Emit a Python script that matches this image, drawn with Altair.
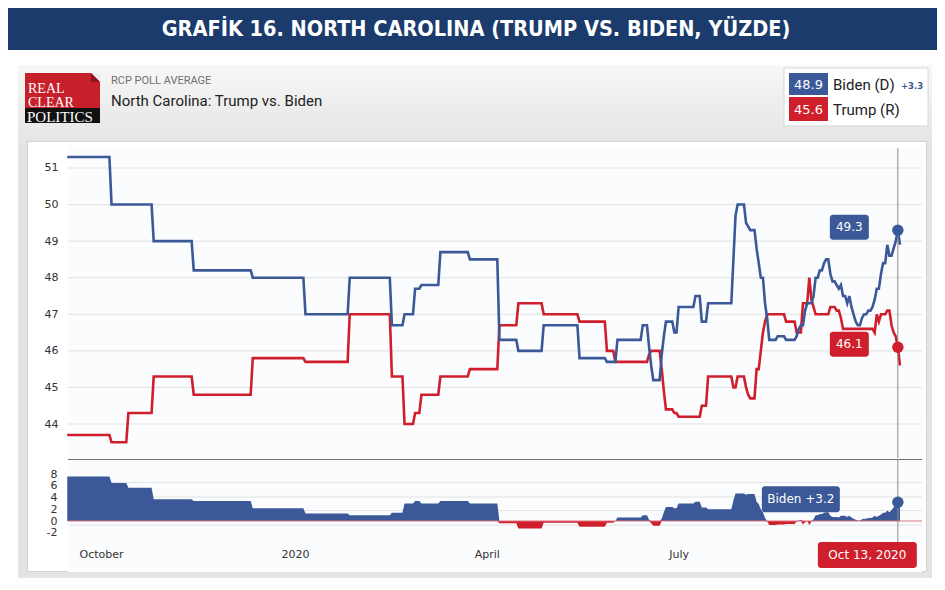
import altair as alt
import pandas as pd

# ---------------- data ----------------
BIDEN_DATES = [
    "2019-09-15", "2019-10-06", "2019-10-26", "2019-11-14", "2019-12-12",
    "2020-01-06", "2020-01-27", "2020-02-16", "2020-02-22", "2020-02-27",
    "2020-03-01", "2020-03-10", "2020-03-24", "2020-04-07", "2020-04-16",
    "2020-04-28", "2020-05-15", "2020-05-28", "2020-06-02", "2020-06-14",
    "2020-06-17", "2020-06-18", "2020-06-19", "2020-06-23", "2020-06-24",
    "2020-06-25", "2020-06-29", "2020-07-01", "2020-07-09", "2020-07-12",
    "2020-07-15", "2020-07-27", "2020-07-28", "2020-07-29", "2020-08-02",
    "2020-08-03", "2020-08-04", "2020-08-07", "2020-08-08", "2020-08-09",
    "2020-08-11", "2020-08-12", "2020-08-13", "2020-08-17", "2020-08-21",
    "2020-08-26", "2020-08-27", "2020-08-28", "2020-08-30", "2020-08-31",
    "2020-09-03", "2020-09-04", "2020-09-06", "2020-09-08", "2020-09-09",
    "2020-09-11", "2020-09-12", "2020-09-14", "2020-09-15", "2020-09-16",
    "2020-09-17", "2020-09-19", "2020-09-20", "2020-09-21", "2020-09-22",
    "2020-09-23", "2020-09-24", "2020-09-26", "2020-09-27", "2020-09-29",
    "2020-10-01", "2020-10-02", "2020-10-03", "2020-10-05", "2020-10-06",
    "2020-10-08", "2020-10-09", "2020-10-11", "2020-10-12", "2020-10-13",
    "2020-10-14",
]
BIDEN_VALUES = [
    51.3, 50.0, 49.0, 48.2, 48.0,
    47.0, 48.0, 46.7, 47.0, 47.7,
    47.8, 48.7, 48.5, 46.3, 46.0,
    46.7, 45.8, 45.7, 46.3, 46.7,
    46.1, 45.6, 45.2, 45.9, 46.4,
    46.8, 46.5, 47.2, 47.5, 46.8,
    47.3, 48.5, 49.7, 50.0, 49.5,
    49.4, 49.3, 48.8, 48.4, 48.0,
    47.3, 46.9, 46.3, 46.4, 46.3,
    46.4, 46.6, 46.7, 47.1, 47.3,
    47.5, 48.0, 48.2, 48.4, 48.5,
    48.1, 47.9, 47.8, 47.7, 47.8,
    47.5, 47.3, 47.5, 47.2, 47.0,
    46.8, 46.7, 46.9, 47.0, 47.1,
    47.2, 47.4, 47.7, 48.1, 48.4,
    48.9, 48.6, 48.8, 49.0, 49.3,
    48.9,
]
TRUMP_DATES = [
    "2019-09-15", "2019-10-06", "2019-10-14", "2019-10-26", "2019-11-14",
    "2019-12-12", "2020-01-06", "2020-01-27", "2020-02-16", "2020-02-22",
    "2020-02-27", "2020-03-01", "2020-03-10", "2020-03-24", "2020-04-07",
    "2020-04-16", "2020-04-28", "2020-05-15", "2020-05-28", "2020-06-01",
    "2020-06-17", "2020-06-18", "2020-06-23", "2020-06-24", "2020-06-25",
    "2020-06-29", "2020-07-01", "2020-07-12", "2020-07-15", "2020-07-27",
    "2020-07-29", "2020-08-02", "2020-08-03", "2020-08-04", "2020-08-07",
    "2020-08-09", "2020-08-10", "2020-08-11", "2020-08-12", "2020-08-21",
    "2020-08-26", "2020-08-29", "2020-09-01", "2020-09-02", "2020-09-03",
    "2020-09-04", "2020-09-11", "2020-09-14", "2020-09-16", "2020-09-17",
    "2020-10-02", "2020-10-03", "2020-10-04", "2020-10-05", "2020-10-08",
    "2020-10-10", "2020-10-11", "2020-10-12", "2020-10-13", "2020-10-14",
]
TRUMP_VALUES = [
    43.7, 43.5, 44.3, 45.3, 44.8,
    45.8, 45.7, 47.0, 45.3, 44.0,
    44.3, 44.8, 45.3, 45.5, 46.7,
    47.3, 47.0, 46.8, 46.0, 45.7,
    45.9, 46.0, 45.5, 44.9, 44.4,
    44.3, 44.2, 44.5, 45.3, 45.0,
    45.3, 45.0, 44.8, 44.7, 45.5,
    46.0, 46.5, 46.8, 47.0, 46.8,
    46.5, 47.3, 48.0, 47.4, 47.2,
    47.0, 47.2, 47.1, 46.9, 46.6,
    46.5, 47.0, 46.8, 47.0, 47.1,
    46.7, 46.5, 46.4, 46.1, 45.6,
]

Y_TICKS = [44, 45, 46, 47, 48, 49, 50, 51]
SPREAD_TICKS = [8, 6, 4, 2, 0, -2]
SPREAD_GRID = [6.6, 4.1, 1.8, -0.7]
X_TICKS = ["2019-10-01", "2020-01-01", "2020-04-01", "2020-07-01"]
X_RANGE = ["2019-09-15 08:24", "2020-10-24 11:00"]
HOVER_DATE = "2020-10-13"

TITLE = "GRAFİK 16. NORTH CAROLINA (TRUMP VS. BIDEN, YÜZDE)"
SOURCE_LABEL = "RCP POLL AVERAGE"
SUBTITLE = "North Carolina: Trump vs. Biden"
CANDIDATES = ["Biden (D)", "Trump (R)"]
LOGO_WORDS = ["REAL", "CLEAR", "POLITICS"]

# ---------------- styles ----------------
BLUE = "#3b5998"
RED = "#cf1f2c"
NAVY = "#1a3b6c"
FRAME = "#e4e4e4"
BORDER = "#d3d3d3"
PLOT_BG = "#fbfcfe"
NUM_FONT = "DejaVu Sans"
TXT_FONT = "Roboto"

W = 854
H_HEAD = 139
H_MAIN = 312
H_LOW = 86


def ms(s):
    return int(pd.Timestamp(s, tz="UTC").value // 10**6)


def daily(dates, values):
    s = pd.Series(values, index=pd.to_datetime(dates))
    idx = pd.date_range(s.index.min(), s.index.max(), freq="D")
    return s.reindex(idx).ffill()


b = daily(BIDEN_DATES, BIDEN_VALUES)
t = daily(TRUMP_DATES, TRUMP_VALUES)
df = pd.DataFrame({"date": b.index.strftime("%Y-%m-%d"), "Biden": b.values, "Trump": t.values})
df["spread"] = (df["Biden"] - df["Trump"]).round(1)
df["pos"] = df["spread"].clip(lower=0)
df["neg"] = df["spread"].clip(upper=0)
long = df.melt(id_vars="date", value_vars=["Trump", "Biden"], var_name="cand", value_name="value")

hov = df[df["date"] == HOVER_DATE].copy()
hov["datelabel"] = pd.Timestamp(HOVER_DATE).strftime("%b %-d, %Y")
hov["spreadlabel"] = hov["spread"].map(lambda v: ("Biden +" if v >= 0 else "Trump +") + f"{abs(v):.1f}")
last = df.iloc[-1]
lead = round(last["Biden"] - last["Trump"], 1)

ONE = alt.Data(values=[{"k": 0}])

xscale = alt.Scale(type="utc", domain=[ms(X_RANGE[0]), ms(X_RANGE[1])])
yscale_main = alt.Scale(domain=[43.043, 51.574], nice=False, zero=False)
yscale_low = alt.Scale(domain=[-4.1, 10.6], nice=False, zero=False)

yaxis_main = alt.Axis(values=Y_TICKS, grid=False, domain=False, ticks=False, labelPadding=10,
                      labelFont=NUM_FONT, labelFontSize=11, labelColor="#333333", title=None,
                      zindex=1)
yaxis_low = alt.Axis(values=SPREAD_TICKS, grid=False, domain=False, ticks=False, labelPadding=11,
                     labelFont=NUM_FONT, labelFontSize=11, labelColor="#333333", title=None,
                     labelOverlap=False, zindex=1, labelExpr="'' + datum.value")
xaxis_low = alt.Axis(values=[ms(d) for d in X_TICKS], grid=False, domain=False, ticks=False,
                     labelPadding=3, labelFont=NUM_FONT, labelFontSize=11, labelColor="#333333",
                     title=None, labelFlush=False, zindex=1,
                     labelExpr="utcmonth(datum.value) == 0 ? utcFormat(datum.value, '%Y') : utcFormat(datum.value, '%B')")


def XM():
    return alt.X("date:T", scale=xscale, axis=None)


def XL():
    return alt.X("date:T", scale=xscale, axis=xaxis_low)


def YM(f):
    return alt.Y(f + ":Q", scale=yscale_main, axis=yaxis_main)


def YL(f):
    return alt.Y(f + ":Q", scale=yscale_low, axis=yaxis_low)


def rect(x1, x2, y1, y2, **kw):
    return alt.Chart(ONE).mark_rect(**kw).encode(
        x=alt.value(x1), x2=alt.value(x2), y=alt.value(y1), y2=alt.value(y2))


def label(x, y, text, **kw):
    return alt.Chart(ONE).mark_text(text=text, **kw).encode(x=alt.value(x), y=alt.value(y))


# ---------------- header ----------------
grad = alt.Gradient(gradient="linear",
                    stops=[alt.GradientStop(color="#f7f7f7", offset=0),
                           alt.GradientStop(color=FRAME, offset=1)],
                    x1=0, x2=0, y1=0, y2=1)
head_layers = [
    rect(-60, 869, 0, 42, color=NAVY),
    label(408, 21.5, TITLE, font="DejaVu Sans Condensed, Liberation Sans Narrow, sans-serif",
          fontSize=21.5, fontWeight="bold", color="white", align="center", baseline="middle"),
    rect(-50, 864, 57, 139, color=grad),
    rect(-41, 859, 133, 139, color="white"),
    rect(-41, 859, 133, 134, color=BORDER),
    rect(-41, -40, 133, 139, color=BORDER),
    rect(858, 859, 133, 139, color=BORDER),
    # logo
    rect(-43, 32, 65, 100, color="#c8202b"),
    rect(-43, 32, 100, 115, color="#111111"),
    alt.Chart(ONE).mark_point(shape="M-1,-1 L1,-1 L1,1 Z", filled=True, size=81, opacity=1,
                              color="#ececec", strokeWidth=0).encode(x=alt.value(27.5), y=alt.value(69.5)),
    alt.Chart(ONE).mark_point(shape="M-1,-1 L1,1 L-1,1 Z", filled=True, size=81, opacity=1,
                              color="#8f1820", strokeWidth=0).encode(x=alt.value(27.5), y=alt.value(69.5)),
    label(-40, 84.5, LOGO_WORDS[0], font="Liberation Serif", fontSize=14, color="white",
          align="left", baseline="alphabetic"),
    label(-40, 98.5, LOGO_WORDS[1], font="Liberation Serif", fontSize=14, color="white",
          align="left", baseline="alphabetic"),
    label(-41, 113.5, LOGO_WORDS[2], font="Liberation Serif", fontSize=15, color="white",
          align="left", baseline="alphabetic"),
    label(43, 72.5, SOURCE_LABEL, font=TXT_FONT, fontSize=11, color="#707070",
          align="left", baseline="middle"),
    label(43, 93, SUBTITLE, font=TXT_FONT, fontSize=15, color="#222222",
          align="left", baseline="middle"),
    # legend
    rect(716, 860, 60, 118, color="white", stroke="#d6d6d6", strokeWidth=1),
    rect(721, 760, 65, 87, color=BLUE),
    rect(721, 760, 89, 113, color=RED),
    label(740.5, 76.5, f"{last['Biden']:.1f}", font=NUM_FONT, fontSize=13, color="white",
          align="center", baseline="middle"),
    label(740.5, 101.5, f"{last['Trump']:.1f}", font=NUM_FONT, fontSize=13, color="white",
          align="center", baseline="middle"),
    label(765, 76.5, CANDIDATES[0], font=TXT_FONT, fontSize=15, color="#222222",
          align="left", baseline="middle"),
    label(765, 101.5, CANDIDATES[1], font=TXT_FONT, fontSize=15, color="#222222",
          align="left", baseline="middle"),
    label(833, 78, f"+{lead:.1f}", font=NUM_FONT, fontSize=8.5, fontWeight="bold", color=BLUE,
          align="left", baseline="middle"),
]
header = alt.layer(*head_layers).properties(width=W, height=H_HEAD)

# ---------------- main chart ----------------
grid_main = alt.Chart(pd.DataFrame({"v": Y_TICKS})).mark_rule(color="#e0e0e0", strokeWidth=1).encode(
    y=YM("v"), x=alt.value(0), x2=alt.value(W))
lines = alt.Chart(long).mark_line(strokeWidth=2.6, interpolate="linear").encode(
    x=XM(), y=YM("value"),
    color=alt.Color("cand:N", scale=alt.Scale(domain=["Trump", "Biden"], range=[RED, BLUE]), legend=None),
)
hover_rule_main = alt.Chart(hov).mark_rule(color="#8c8c8c", strokeWidth=1).encode(
    x=XM(), y=alt.value(1), y2=alt.value(H_MAIN - 1))


def tip(field, color):
    box = alt.Chart(hov).mark_rect(color=color, cornerRadius=3, xOffset=-68, x2Offset=-29,
                                   yOffset=-15.5, y2Offset=9.5).encode(
        x=XM(), x2=alt.X2("date"), y=YM(field), y2=alt.Y2(field))
    txt = alt.Chart(hov).mark_text(color="white", font=NUM_FONT, fontSize=12, dx=-48.5, dy=-3,
                                   align="center", baseline="middle").encode(
        x=XM(), y=YM(field), text=alt.Text(field + ":Q", format=".1f"))
    dot = alt.Chart(hov).mark_circle(size=130, color=color, opacity=1).encode(x=XM(), y=YM(field))
    return [box, txt, dot]


main = alt.layer(
    rect(-50, 864, 0, H_MAIN, color=FRAME),
    rect(-41, 859, 0, H_MAIN, color="white"),
    rect(-41, -40, 0, H_MAIN, color=BORDER),
    rect(858, 859, 0, H_MAIN, color=BORDER),
    rect(0, W, 0, H_MAIN, color=PLOT_BG),
    grid_main,
    lines,
    hover_rule_main,
    *tip("Biden", BLUE),
    *tip("Trump", RED),
).properties(width=W, height=H_MAIN)

# ---------------- spread chart ----------------
grid_low = alt.Chart(pd.DataFrame({"v": SPREAD_GRID})).mark_rule(color="#e3e3e3", strokeWidth=1).encode(
    y=YL("v"), x=alt.value(0), x2=alt.value(W))
area_pos = alt.Chart(df).mark_area(color=BLUE, opacity=1, interpolate="linear").encode(
    x=XL(), y=YL("pos"), y2=alt.datum(0))
area_neg = alt.Chart(df).mark_area(color=RED, opacity=1, interpolate="linear").encode(
    x=XL(), y=YL("neg"), y2=alt.datum(0))
zero_line = alt.Chart(pd.DataFrame({"v": [0]})).mark_rule(color="#e2707c", strokeWidth=1).encode(
    y=YL("v"), x=alt.value(0), x2=alt.value(W))
hover_rule_low = alt.Chart(hov).mark_rule(color="#8c8c8c", strokeWidth=1).encode(
    x=XL(), y=alt.value(1), y2=alt.value(83))
spread_box = alt.Chart(hov).mark_rect(color=BLUE, cornerRadius=3, xOffset=-136, x2Offset=-58,
                                      yOffset=-16, y2Offset=10).encode(
    x=XL(), x2=alt.X2("date"), y=YL("spread"), y2=alt.Y2("spread"))
spread_txt = alt.Chart(hov).mark_text(color="white", font=NUM_FONT, fontSize=12, dx=-97, dy=-3,
                                      align="center", baseline="middle").encode(
    x=XL(), y=YL("spread"), text="spreadlabel:N")
spread_dot = alt.Chart(hov).mark_circle(size=130, color=BLUE, opacity=1).encode(x=XL(), y=YL("spread"))
date_box = alt.Chart(hov).mark_rect(color=RED, cornerRadius=3, xOffset=-80, x2Offset=19).encode(
    x=XL(), x2=alt.X2("date"), y=alt.value(83), y2=alt.value(109))
date_txt = alt.Chart(hov).mark_text(color="white", font=NUM_FONT, fontSize=12, dx=-30.5,
                                    align="center", baseline="middle").encode(
    x=XL(), y=alt.value(96), text="datelabel:N")

lower = alt.layer(
    rect(-50, 864, 0, 119, color=FRAME),
    rect(-41, 859, 0, 113, color="white"),
    rect(-41, -40, 0, 113, color=BORDER),
    rect(858, 859, 0, 113, color=BORDER),
    rect(-41, 859, 112, 113, color=BORDER),
    rect(0, W, 0, 113, color=PLOT_BG),
    grid_low,
    area_pos,
    area_neg,
    zero_line,
    rect(0, W, 0, 1, color="#6f6f6f"),
    hover_rule_low,
    spread_box,
    spread_txt,
    spread_dot,
    date_box,
    date_txt,
).properties(width=W, height=H_LOW)

chart = alt.vconcat(header, main, lower, spacing=0).properties(
    padding=0, background="white").configure_view(stroke=None)

chart.save("out.html", embed_options={"renderer": "svg", "actions": False})
